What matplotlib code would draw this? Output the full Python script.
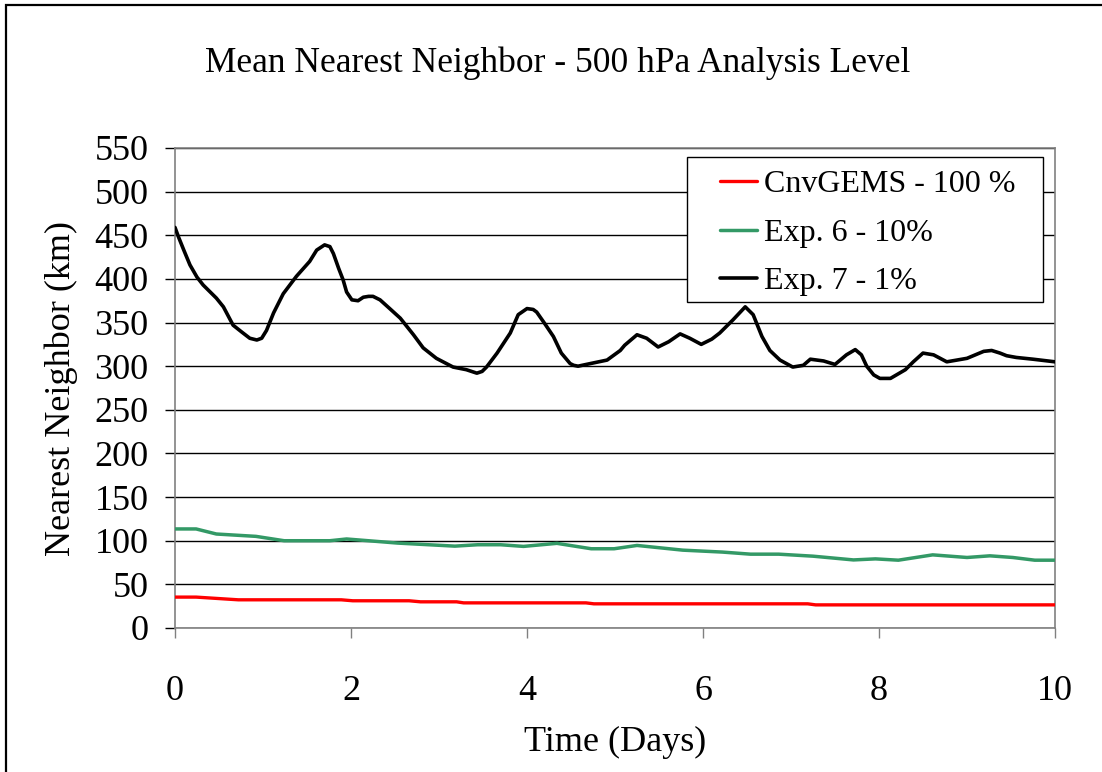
import matplotlib
matplotlib.use('Agg')
import matplotlib.pyplot as plt
from matplotlib.patches import Rectangle

plt.rcParams['font.family'] = ['Liberation Serif', 'DejaVu Serif']

# CnvGEMS - 100 %
red_days = [0.0, 0.24, 0.72, 1.89, 2.02, 2.66, 2.79, 3.2, 3.28, 4.67, 4.76, 7.19, 7.28, 10.0]
red_vals = [35.4, 35.4, 32.3, 32.3, 31.2, 31.2, 30.0, 30.0, 28.8, 28.8, 27.7, 27.7, 26.5, 26.5]

# Exp. 6 - 10%
green_days = [0.0, 0.24, 0.47, 0.92, 1.24, 1.76, 1.95, 2.53, 3.18, 3.44, 3.70, 3.96, 4.34,
              4.73, 4.99, 5.25, 5.77, 6.22, 6.54, 6.86, 7.25, 7.71, 7.96, 8.22, 8.61,
              9.0, 9.26, 9.52, 9.77, 10.0]
green_vals = [113.5, 113.5, 107.7, 105.0, 100.0, 100.0, 102.0, 97.3, 93.8, 95.4, 95.4, 93.5, 97.0,
              90.8, 90.8, 94.6, 89.2, 87.0, 84.6, 84.6, 82.3, 78.0, 79.2, 77.7, 83.8,
              80.8, 82.7, 80.8, 77.7, 77.7]

# Exp. 7 - 1%
black_days = [0.00, 0.04, 0.10, 0.17, 0.25, 0.32, 0.47, 0.55, 0.66, 0.76, 0.85, 0.93, 0.985,
              1.04, 1.12, 1.23, 1.38, 1.53, 1.61, 1.70, 1.76, 1.80, 1.86, 1.91, 1.95,
              2.01, 2.08, 2.14, 2.20, 2.25, 2.33, 2.44, 2.56, 2.71, 2.82, 2.97, 3.16,
              3.31, 3.43, 3.49, 3.54, 3.66, 3.81, 3.90, 4.00, 4.07, 4.11, 4.20, 4.30,
              4.39, 4.49, 4.53, 4.58, 4.72, 4.91, 5.06, 5.11, 5.25, 5.36, 5.49, 5.61,
              5.74, 5.85, 5.98, 6.10, 6.19, 6.34, 6.48, 6.57, 6.67, 6.76, 6.875, 7.02,
              7.14, 7.22, 7.37, 7.50, 7.63, 7.73, 7.80, 7.86, 7.94, 8.01, 8.13, 8.30,
              8.39, 8.50, 8.62, 8.77, 9.00, 9.19, 9.28, 9.375, 9.45, 9.56, 9.75, 10.00]
black_vals = [459, 448, 433, 416, 402, 393, 378, 368, 347, 339, 332, 330, 332,
              341, 361, 383, 403, 420, 433, 439, 437, 429, 412, 399, 385,
              376, 375, 379, 380, 380, 376, 366, 355, 336, 321, 309, 299,
              296, 292, 294, 299, 315, 338, 359, 366, 365, 362, 349, 334,
              315, 303, 301, 300, 303, 307, 318, 324, 336, 332, 322, 328,
              337, 332, 325, 331, 338, 353, 368, 359, 334, 318, 307, 299,
              301, 308, 306, 302, 313, 319, 313, 300, 290, 286, 286, 296,
              305, 315, 313, 305, 309, 317, 318, 315, 312, 310, 308, 305]

labels = ['CnvGEMS - 100 %', 'Exp. 6 - 10%', 'Exp. 7 - 1%']

W, H = 1102, 772
fig = plt.figure(figsize=(W / 100, H / 100), dpi=100)
ax = fig.add_axes([175 / W, (H - 628) / H, 880 / W, 480 / H])

style = dict(solid_joinstyle='round', solid_capstyle='round', zorder=3)
ax.plot(red_days, red_vals, color='#ff0000', lw=2.4, label=labels[0], **style)
ax.plot(green_days, green_vals, color='#339966', lw=2.5, label=labels[1], **style)
ax.plot(black_days, black_vals, color='black', lw=2.6, label=labels[2], **style)

ax.set_xlim(0, 10)
ax.set_ylim(0, 550)
ax.set_xticks(range(0, 11, 2))
ax.set_yticks(range(0, 551, 50))
ax.grid(axis='y', color='black', lw=1)
ax.set_axisbelow(True)
for s in ax.spines.values():
    s.set_color('#808080')
    s.set_linewidth(1.2)

ax.tick_params(axis='y', labelsize=26, length=7, width=1, color='black', pad=12)
ax.tick_params(axis='x', labelsize=26, length=7, width=1, color='#808080', pad=27)

ax.set_xlabel('Time (Days)', fontsize=26, labelpad=13)
ax.set_ylabel('Nearest Neighbor (km)', fontsize=26, labelpad=12)

fig.text(558 / W, 1 - 63 / H, 'Mean Nearest Neighbor - 500 hPa Analysis Level',
         ha='center', va='center', fontsize=25.5)

# legend box (Excel style, wider left/right margins than top/bottom)
ax.add_patch(Rectangle((687 / W, 1 - 302 / H), 356 / W, 145 / H, transform=fig.transFigure,
                       facecolor='white', edgecolor='black', lw=1, zorder=4, clip_on=False))
leg = ax.legend(loc='upper left', bbox_to_anchor=(720 / W, 1 - 170 / H),
                bbox_transform=fig.transFigure, borderaxespad=0, fontsize=23,
                frameon=False, handlelength=1.16, handletextpad=0.22,
                labelspacing=0.6, borderpad=0)
leg.set_zorder(5)

# outer border of the chart area
fig.add_artist(Rectangle((6 / W, -0.1), 1.2, 1 - 5 / H + 0.1, transform=fig.transFigure,
                         fill=False, edgecolor='black', lw=1.6, clip_on=False))

fig.savefig('out.png', dpi=100)
